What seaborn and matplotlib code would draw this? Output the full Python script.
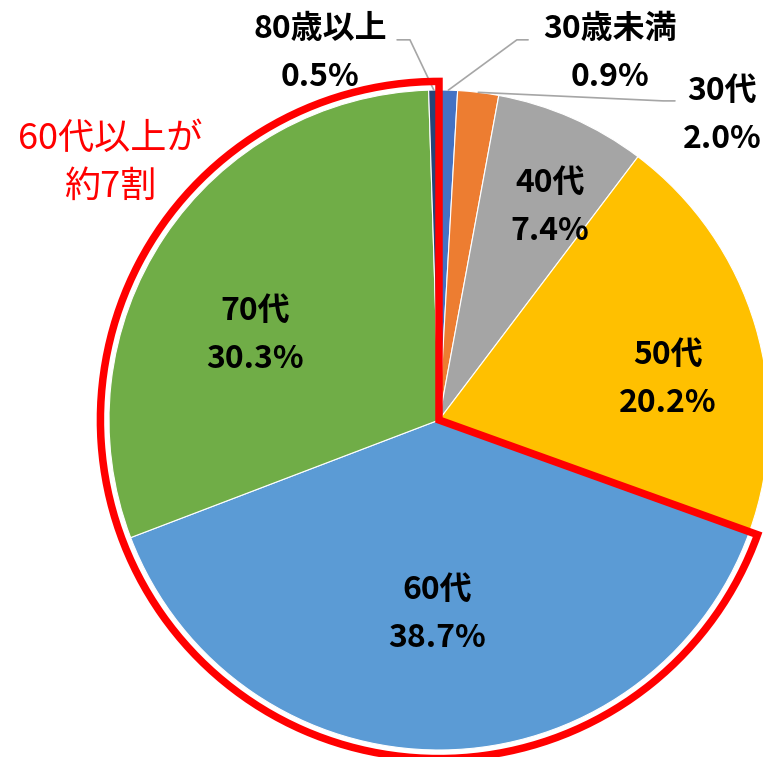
import numpy as np
import matplotlib.pyplot as plt
import seaborn as sns
from matplotlib.patches import Wedge

sns.set_theme(style="white")
plt.rcParams['font.family'] = ['Noto Sans CJK JP', 'DejaVu Sans']

# age groups, clockwise from 12 o'clock
groups = ['30歳未満', '30代', '40代', '50代', '60代', '70代', '80歳以上']
shares = [0.9, 2.0, 7.4, 20.2, 38.7, 30.3, 0.5]
colors = ['#4472C4', '#ED7D31', '#A5A5A5', '#FFC000', '#5B9BD5', '#70AD47', '#264478']

# label placement (data units, pie radius = 1)
inside_pos = {'40代': (0.336, 0.645), '50代': (0.694, 0.124),
              '60代': (-0.006, -0.588), '70代': (-0.558, 0.258)}
outside_pos = {'30歳未満': (0.518, 1.112), '30代': (0.858, 0.924), '80歳以上': (-0.361, 1.112)}
elbows = {'30歳未満': [(0.270, 1.152), (0.236, 1.152)],
          '30代': [(0.715, 0.967), (0.679, 0.967)],
          '80歳以上': [(-0.127, 1.152), (-0.088, 1.152)]}

fig = plt.figure(figsize=(7.63, 7.57), dpi=100)
ax = fig.add_axes([0, 0, 1, 1])

wedges, _ = ax.pie(shares, colors=sns.color_palette(colors), startangle=90, counterclock=False,
                   radius=1, wedgeprops=dict(edgecolor='white', linewidth=0.8))

# cumulative angles (matplotlib degrees)
cum = np.cumsum([0] + shares)
mids = {g: np.deg2rad(90 - 3.6 * (cum[i] + shares[i] / 2)) for i, g in enumerate(groups)}

lbl = dict(ha='center', va='center', fontsize=23, fontweight='bold', color='black')
dy = 0.073
for g, v in zip(groups, shares):
    if g in inside_pos:
        x, y = inside_pos[g]
    else:
        x, y = outside_pos[g]
        a = mids[g]
        pts = elbows[g] + [(np.cos(a), np.sin(a))]
        ax.plot([p[0] for p in pts], [p[1] for p in pts], color='#A6A6A6', lw=1.2, zorder=1)
    ax.text(x, y + dy, g, **lbl)
    ax.text(x, y - dy, f'{v:.1f}%', **lbl)

# red outline around 60代 and above
over60 = sum(shares[groups.index('60代'):])
theta1 = 90
theta2 = 90 + 3.6 * over60
ax.add_patch(Wedge((0, 0), 1.026, theta1, theta2, fill=False, edgecolor='#FF0000',
                   linewidth=5.4, joinstyle='miter', zorder=5))

ax.text(-0.997, 0.852, '60代以上が', ha='center', va='center', fontsize=26, color='#FF0000')
ax.text(-0.997, 0.706, '約7割', ha='center', va='center', fontsize=26, color='#FF0000')

ax.set_xlim(-439 / 330, (763 - 439) / 330)
ax.set_ylim(-(757 - 420) / 330, 420 / 330)
ax.set_aspect('equal')
ax.axis('off')

fig.savefig('out.png', dpi=100, facecolor='white')
